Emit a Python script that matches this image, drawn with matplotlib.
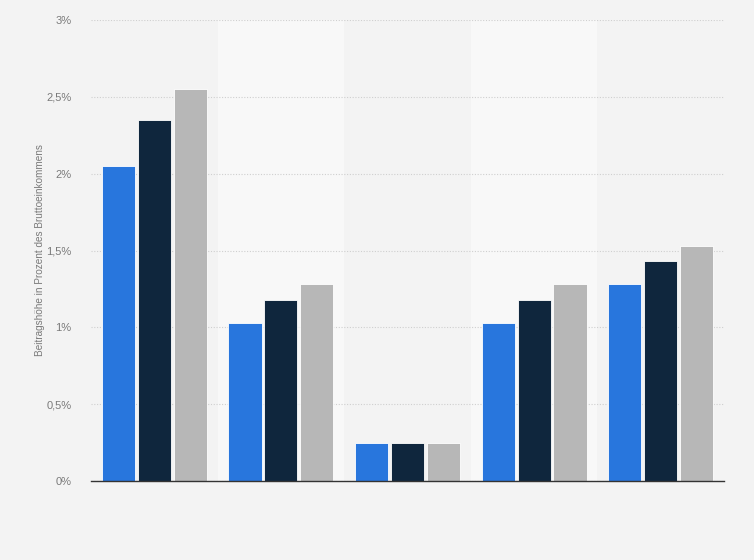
import matplotlib
matplotlib.use("Agg")
import matplotlib.pyplot as plt
import numpy as np

plt.rcParams["font.family"] = ["Liberation Sans", "DejaVu Sans"]

groups = ["1", "2", "3", "4", "5"]
series_a = [2.05, 1.03, 0.25, 1.03, 1.28]
series_b = [2.35, 1.18, 0.25, 1.18, 1.43]
series_c = [2.55, 1.28, 0.25, 1.28, 1.53]
colors = ["#2876dd", "#0f263d", "#b7b7b7"]
yticks = [0, 0.5, 1, 1.5, 2, 2.5, 3]
ytick_labels = ["0%", "0,5%", "1%", "1,5%", "2%", "2,5%", "3%"]

fig = plt.figure(figsize=(7.54, 5.6), dpi=100)
fig.patch.set_facecolor("#f3f3f3")
ax = fig.add_axes([91/754, 1-481/560, (724-91)/754, (481-20)/560])
ax.set_facecolor("#f3f3f3")

x = np.arange(len(groups))
for i in range(len(groups)):
    if i % 2 == 1:
        ax.axvspan(i-0.5, i+0.5, color="#f8f8f8", zorder=0, lw=0)

w = 0.262
off = 0.284
for k, (vals, c) in enumerate(zip([series_a, series_b, series_c], colors)):
    ax.bar(x + (k-1)*off, vals, width=w, color=c, edgecolor="white", linewidth=0.6, zorder=3)

ax.set_xlim(-0.5, len(groups)-0.5)
ax.set_ylim(0, 3)
ax.set_yticks(yticks)
ax.set_yticklabels(ytick_labels, color="#7a7a7a", fontsize=8)
ax.set_xticks([])
ax.tick_params(axis="y", length=0, pad=14)
ax.grid(axis="y", color="#cfcfcf", linestyle=(0, (1, 1.5)), linewidth=0.8, zorder=1)
for s in ["top", "right", "left"]:
    ax.spines[s].set_visible(False)
ax.spines["bottom"].set_color("#333333")
ax.spines["bottom"].set_linewidth(1)
ax.spines["bottom"].set_zorder(4)

fig.text(40/754, 1-250/560, "Beitragshöhe in Prozent des Bruttoeinkommens", rotation=90,
         ha="center", va="center", color="#7a7a7a", fontsize=7.2)

fig.savefig("out.png", dpi=100, facecolor=fig.get_facecolor())
